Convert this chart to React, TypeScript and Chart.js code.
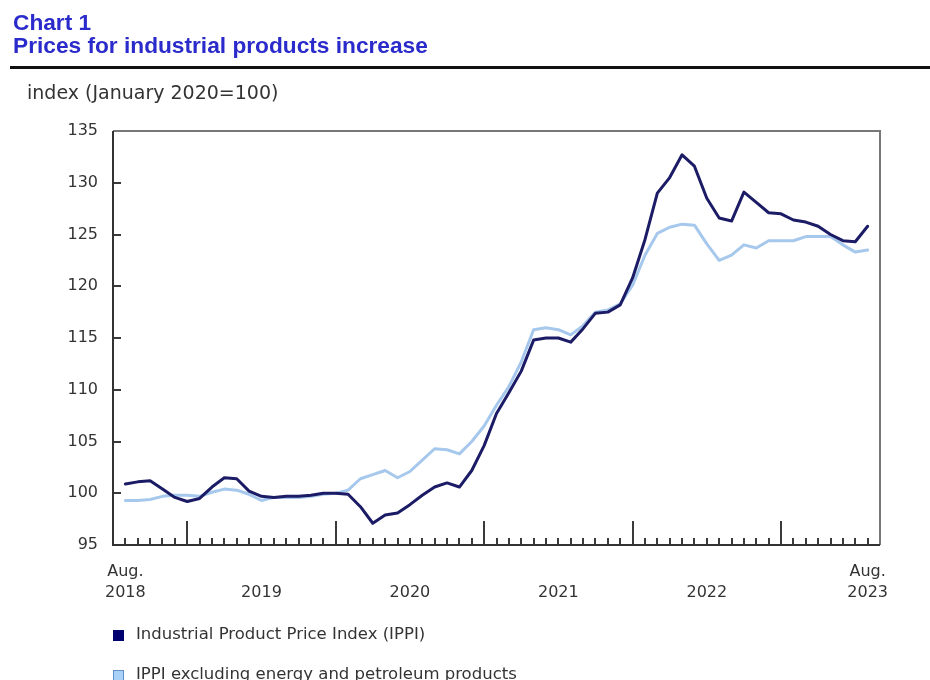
import React, { useEffect, useRef } from 'react';
import { Chart, registerables } from 'chart.js';

Chart.register(...registerables);

// Monthly categories, August 2018 to August 2023
const startYear = 2018;
const startMonth = 7; // 0-based: August
const monthCount = 61;
const months: string[] = [];
for (let k = 0; k < monthCount; k++) {
  const m = (startMonth + k) % 12;
  const y = startYear + Math.floor((startMonth + k) / 12);
  months.push(`${y}-${String(m + 1).padStart(2, '0')}`);
}

// Industrial Product Price Index (IPPI), January 2020 = 100
const ippi: number[] = [
  100.9, 101.1, 101.2, 100.4, 99.6, 99.2, 99.5, 100.6, 101.5, 101.4, 100.2, 99.7,
  99.6, 99.7, 99.7, 99.8, 100.0, 100.0, 99.9, 98.7, 97.1, 97.9, 98.1, 98.9,
  99.8, 100.6, 101.0, 100.6, 102.2, 104.6, 107.7, 109.7, 111.8, 114.8, 115.0, 115.0,
  114.6, 115.9, 117.4, 117.5, 118.2, 120.8, 124.5, 129.0, 130.5, 132.7, 131.6, 128.5,
  126.6, 126.3, 129.1, 128.1, 127.1, 127.0, 126.4, 126.2, 125.8, 125.0, 124.4, 124.3,
  125.8,
];

// IPPI excluding energy and petroleum products
const ippiExEnergy: number[] = [
  99.3, 99.3, 99.4, 99.7, 99.8, 99.8, 99.7, 100.1, 100.4, 100.3, 99.9, 99.3,
  99.6, 99.6, 99.6, 99.7, 99.9, 100.0, 100.3, 101.4, 101.8, 102.2, 101.5, 102.1,
  103.2, 104.3, 104.2, 103.8, 105.0, 106.5, 108.5, 110.3, 112.7, 115.8, 116.0, 115.8,
  115.3, 116.2, 117.5, 117.7, 118.3, 120.1, 123.0, 125.1, 125.7, 126.0, 125.9, 124.1,
  122.5, 123.0, 124.0, 123.7, 124.4, 124.4, 124.4, 124.8, 124.8, 124.8, 124.0, 123.3,
  123.5,
];

const seriesNames = [
  'Industrial Product Price Index (IPPI)',
  'IPPI excluding energy and petroleum products',
];
const seriesColors = ['#1b1b66', '#a6c8ec'];
const legendFill = ['#000070', '#a9d0f5'];
const legendBorder = ['#000070', '#5f8fcc'];

const xTickPositions = [0, 11, 23, 35, 47, 60];
const xTickLabels: string[][] = [
  ['Aug.', '2018'],
  ['', '2019'],
  ['', '2020'],
  ['', '2021'],
  ['', '2022'],
  ['Aug.', '2023'],
];

const yMin = 95;
const yMax = 135;
const yStep = 5;

const axisDecor = {
  id: 'axisDecor',
  beforeDatasetsDraw(chart: any) {
    const { ctx, chartArea: a, scales } = chart;
    const x = scales.x;
    const y = scales.y;
    ctx.save();
    // month tick marks, rising from the bottom axis
    ctx.strokeStyle = '#3a3a3a';
    ctx.lineWidth = 2;
    for (let i = 0; i < months.length; i++) {
      const px = Math.round(x.getPixelForValue(i));
      const len = months[i].endsWith('-01') ? 24 : 7;
      ctx.beginPath();
      ctx.moveTo(px, a.bottom);
      ctx.lineTo(px, a.bottom - len);
      ctx.stroke();
    }
    // value tick marks, pointing inward from the left axis
    for (let v = yMin + yStep; v < yMax; v += yStep) {
      const py = Math.round(y.getPixelForValue(v));
      ctx.beginPath();
      ctx.moveTo(a.left, py);
      ctx.lineTo(a.left + 8, py);
      ctx.stroke();
    }
    // frame
    ctx.strokeStyle = '#777';
    ctx.lineWidth = 2;
    ctx.beginPath();
    ctx.moveTo(a.left, a.top);
    ctx.lineTo(a.right, a.top);
    ctx.lineTo(a.right, a.bottom);
    ctx.stroke();
    ctx.strokeStyle = '#333';
    ctx.beginPath();
    ctx.moveTo(a.left, a.top);
    ctx.lineTo(a.left, a.bottom);
    ctx.lineTo(a.right, a.bottom);
    ctx.stroke();
    ctx.restore();
  },
};

export default function App() {
  const canvasRef = useRef<HTMLCanvasElement | null>(null);

  useEffect(() => {
    const canvas = canvasRef.current;
    if (!canvas) return;
    const chart = new Chart(canvas, {
      type: 'line',
      data: {
        datasets: [
          {
            label: seriesNames[0],
            data: ippi.map((v, i) => ({ x: i, y: v })),
            borderColor: seriesColors[0],
            backgroundColor: seriesColors[0],
            borderWidth: 3,
            pointRadius: 0,
            tension: 0,
            borderJoinStyle: 'round',
            borderCapStyle: 'round',
          },
          {
            label: seriesNames[1],
            data: ippiExEnergy.map((v, i) => ({ x: i, y: v })),
            borderColor: seriesColors[1],
            backgroundColor: seriesColors[1],
            borderWidth: 3,
            pointRadius: 0,
            tension: 0,
            borderJoinStyle: 'round',
            borderCapStyle: 'round',
          },
        ],
      },
      options: {
        responsive: false,
        animation: false,
        layout: { padding: { left: 0, right: 50, top: 131, bottom: 75 } },
        plugins: {
          legend: { display: false },
          tooltip: { enabled: false },
        },
        scales: {
          x: {
            type: 'linear',
            min: -1,
            max: months.length,
            grid: { display: false, drawTicks: false },
            border: { display: false },
            afterBuildTicks: (s: any) => {
              s.ticks = xTickPositions.map((v) => ({ value: v }));
            },
            afterFit: (s: any) => {
              s.height = 60;
            },
            ticks: {
              autoSkip: false,
              maxRotation: 0,
              minRotation: 0,
              padding: 16.5,
              color: '#333',
              font: { family: '"DejaVu Sans", Verdana, sans-serif', size: 16, lineHeight: 1.3125 },
              callback: (value: any) => {
                const idx = xTickPositions.indexOf(Number(value));
                return idx >= 0 ? xTickLabels[idx] : '';
              },
            },
          },
          y: {
            min: yMin,
            max: yMax,
            grid: { display: false, drawTicks: false },
            border: { display: false },
            afterFit: (s: any) => {
              s.width = 113;
            },
            ticks: {
              stepSize: yStep,
              padding: 15,
              color: '#333',
              font: { family: '"DejaVu Sans", Verdana, sans-serif', size: 16 },
            },
          },
        },
      },
      plugins: [axisDecor],
    });
    return () => chart.destroy();
  }, []);

  return (
    <div
      style={{
        position: 'fixed',
        left: 0,
        top: 0,
        width: 930,
        height: 680,
        background: '#fff',
        overflow: 'hidden',
      }}
    >
      <canvas
        ref={canvasRef}
        width={930}
        height={680}
        style={{ position: 'absolute', left: 0, top: 0, width: 930, height: 680 }}
      />
      <div
        style={{
          position: 'absolute',
          left: 13,
          top: 11,
          font: 'bold 22.7px "Liberation Sans", Arial, sans-serif',
          lineHeight: '23px',
          color: '#2b2bcc',
          whiteSpace: 'nowrap',
        }}
      >
        <div>Chart 1</div>
        <div>Prices for industrial products increase</div>
      </div>
      <div
        style={{
          position: 'absolute',
          left: 10,
          top: 66,
          width: 920,
          height: 3,
          background: '#111',
        }}
      />
      <div
        style={{
          position: 'absolute',
          left: 27,
          top: 81,
          font: '19px "DejaVu Sans", Verdana, sans-serif',
          lineHeight: '22px',
          color: '#333',
          whiteSpace: 'nowrap',
        }}
      >
        index (January 2020=100)
      </div>
      {seriesNames.map((name, i) => (
        <div
          key={name}
          style={{
            position: 'absolute',
            left: 113,
            top: 624 + i * 40,
            height: 20,
            display: 'flex',
            alignItems: 'center',
            font: '16.5px "DejaVu Sans", Verdana, sans-serif',
            lineHeight: '20px',
            color: '#333',
            whiteSpace: 'nowrap',
          }}
        >
          <span
            style={{
              display: 'inline-block',
              boxSizing: 'border-box',
              width: 11,
              height: 11,
              marginRight: 12,
              marginTop: 2,
              background: legendFill[i],
              border: `1px solid ${legendBorder[i]}`,
            }}
          />
          <span>{name}</span>
        </div>
      ))}
    </div>
  );
}
